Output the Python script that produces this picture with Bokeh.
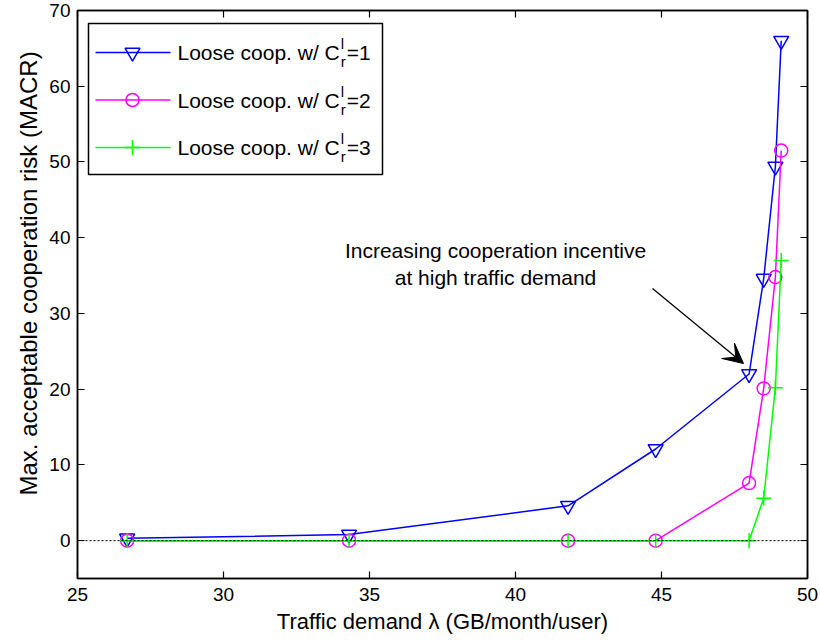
from bokeh.plotting import figure
from bokeh.models import LinearAxis, FixedTicker, Arrow, VeeHead, Range1d, Title
from bokeh.core.properties import value
from bokeh.embed import file_html
from bokeh.resources import INLINE

# ---- data ----
traffic = [26.7, 34.3, 41.8, 44.8, 48.0, 48.5, 48.9, 49.1]
macr_c1 = [0.3, 0.8, 4.6, 12.1, 22.0, 34.6, 49.4, 66.0]
macr_c2 = [0.0, 0.0, 0.0, 0.0, 7.6, 20.1, 34.8, 51.5]
macr_c3 = [0.0, 0.0, 0.0, 0.0, 0.0, 5.6, 20.2, 37.0]
x_ticks = [25, 30, 35, 40, 45, 50]
y_ticks = [0, 10, 20, 30, 40, 50, 60, 70]
x_lim = (25, 50)
y_lim = (-5, 70)
series_values = ["1", "2", "3"]
legend_prefix = "Loose coop. w/ C"
annotation_lines = ["Increasing cooperation incentive", "at high traffic demand"]
x_label = "Traffic demand \u03bb (GB/month/user)"
y_label = "Max. acceptable cooperation risk (MACR)"

FONT = "Liberation Sans"
colors = ["#0000ff", "#ff00ff", "#00ff00"]
markers = ["inverted_triangle", "circle", "cross"]
msizes = [15, 13, 15]

# ---- geometry (page pixels; the page is drawn from its top-left corner) ----
W, H = 818, 642
FL, FW, FT, FH = 77, 730, 10, 568   # frame left, width, top, height


def px2x(px):
    return x_lim[0] + (px - FL) / FW * (x_lim[1] - x_lim[0])


def py2y(py):
    return y_lim[1] - (py - FT) / FH * (y_lim[1] - y_lim[0])


p = figure(width=W, height=H, output_backend="svg", toolbar_location=None,
           x_range=Range1d(*x_lim), y_range=Range1d(*y_lim),
           min_border_left=FL, min_border_right=W - FL - FW,
           min_border_top=FT, min_border_bottom=H - FT - FH)
p.xgrid.visible = False
p.ygrid.visible = False
p.outline_line_color = "black"
p.outline_line_width = 1.5
p.background_fill_color = "white"
p.border_fill_color = "white"

for ax, ticks in ((p.xaxis[0], x_ticks), (p.yaxis[0], y_ticks)):
    ax.ticker = FixedTicker(ticks=ticks)
    ax.minor_tick_line_color = None
    ax.major_tick_in = 7
    ax.major_tick_out = 0
    ax.axis_line_color = "black"
    ax.axis_line_width = 1.5
    ax.major_tick_line_width = 1.2
    ax.major_label_text_font = FONT
    ax.major_label_text_font_size = "19px"
    ax.major_label_text_color = "black"
    ax.axis_label_text_font = FONT
    ax.axis_label_text_font_style = "normal"
    ax.axis_label_text_color = "black"
p.xaxis[0].axis_label = x_label
p.xaxis[0].axis_label_text_font_size = "22px"
p.xaxis[0].major_label_standoff = 9
p.yaxis[0].major_label_standoff = 7
p.xaxis[0].axis_label_standoff = 5

# y axis title, placed as in the reference (bottom of the text ~83px above the frame bottom)
p.add_layout(Title(text=y_label, align="left", offset=83, standoff=10,
                   text_font=FONT, text_font_size="24px", text_font_style="normal",
                   text_color="black"), "left")

# box axes on top and right: inward ticks only, no labels
for loc, ticks in (("right", y_ticks), ("above", x_ticks)):
    ax = LinearAxis(ticker=FixedTicker(ticks=ticks))
    ax.minor_tick_line_color = None
    ax.major_tick_in = 7
    ax.major_tick_out = 0
    ax.axis_line_width = 1.5
    ax.major_tick_line_width = 1.2
    ax.major_label_text_font_size = "1px"
    ax.major_label_text_color = None
    ax.major_label_standoff = 0
    p.add_layout(ax, loc)

# data series
series = [macr_c1, macr_c2, macr_c3]
for ys, c, m, s in zip(series, colors, markers, msizes):
    p.line(traffic, ys, line_color=c, line_width=1.5)
    p.scatter(traffic, ys, marker=m, size=s, fill_color=None, line_color=c, line_width=1.5)

# zero reference line
p.line([x_lim[0], x_lim[1]], [0, 0], line_color="black", line_dash="2 2", line_width=1)

# annotation
p.text(x=[px2x(495)] * 2, y=[py2y(250), py2y(277)], text=annotation_lines,
       text_font=value(FONT), text_font_size=value("21px"), text_color="black",
       text_align="center", text_baseline="middle")
p.add_layout(Arrow(end=VeeHead(size=20, fill_color="black", line_color="black"),
                   x_start=px2x(652), y_start=py2y(288), x_end=px2x(743), y_end=py2y(363),
                   line_color="black", line_width=1.3))

# legend (manual, to allow super/subscripts)
LEFT, RIGHT, TOP, BOTTOM = 88, 382, 23, 174
p.quad(left=[px2x(LEFT)], right=[px2x(RIGHT)], top=[py2y(TOP)], bottom=[py2y(BOTTOM)],
       fill_color="white", line_color="black", line_width=1.5)
rows = [52, 99.5, 147]
FS = 21
prefix_w = 7.726 * FS
for ry, c, m, s, v in zip(rows, colors, markers, msizes, series_values):
    p.line([px2x(95), px2x(170)], [py2y(ry)] * 2, line_color=c, line_width=1.5)
    p.scatter([px2x(132)], [py2y(ry)], marker=m, size=s, fill_color=None, line_color=c, line_width=1.5)
    tx = 177
    p.text(x=[px2x(tx)], y=[py2y(ry)], text=[legend_prefix], text_font=value(FONT),
           text_font_size=value(f"{FS}px"), text_color="black", text_baseline="middle")
    sx = tx + prefix_w + 1
    p.text(x=[px2x(sx)], y=[py2y(ry - 9)], text=["l"], text_font=value(FONT),
           text_font_size=value("15px"), text_color="black", text_baseline="middle")
    p.text(x=[px2x(sx)], y=[py2y(ry + 9)], text=["r"], text_font=value(FONT),
           text_font_size=value("15px"), text_color="black", text_baseline="middle")
    p.text(x=[px2x(sx + 6)], y=[py2y(ry)], text=["=" + v], text_font=value(FONT),
           text_font_size=value(f"{FS}px"), text_color="black", text_baseline="middle")

open("out.html", "w").write(file_html(p, INLINE))
